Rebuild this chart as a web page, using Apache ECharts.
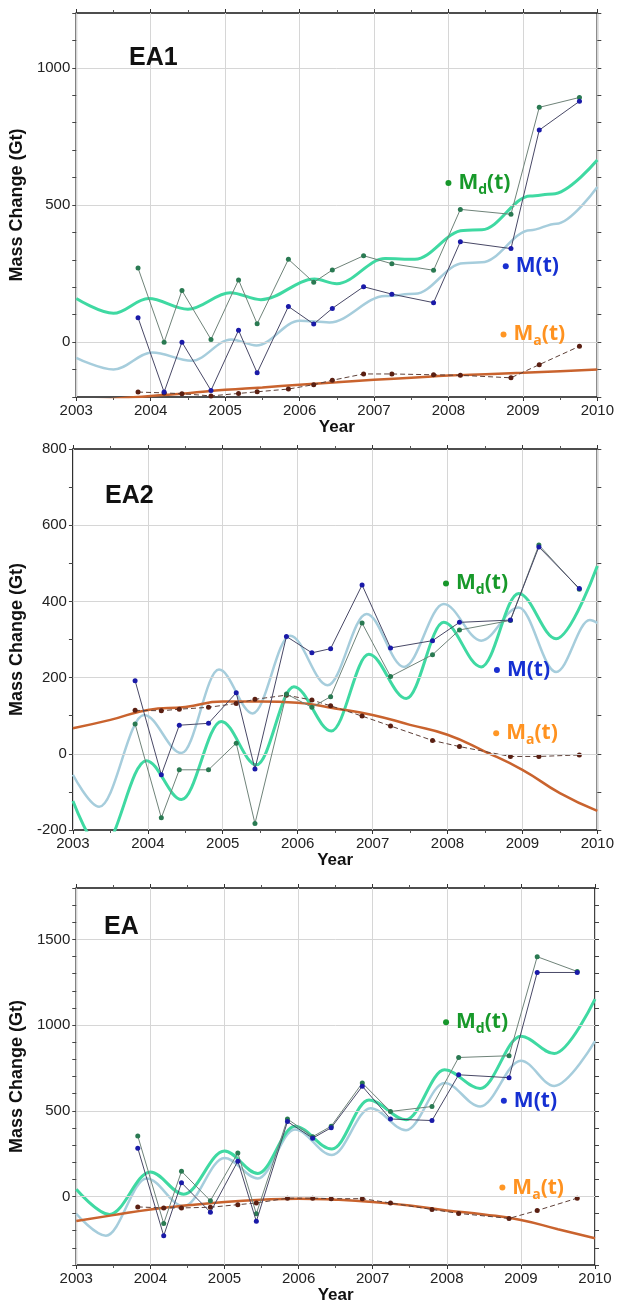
<!DOCTYPE html>
<html>
<head>
<meta charset="utf-8">
<script src="https://cdn.jsdelivr.net/npm/echarts@6/dist/echarts.min.js"></script>
<style>
  html, body { margin: 0; padding: 0; background: #fff; }
  #chart { width: 617px; height: 1305px; }
</style>
</head>
<body>
<div id="chart"></div>
<script>
// ICESat campaign epochs (decimal year)
var campaignYears = [2003.83, 2004.18, 2004.42, 2004.81, 2005.18, 2005.43, 2005.85, 2006.19,
                     2006.44, 2006.86, 2007.24, 2007.80, 2008.16, 2008.84, 2009.22, 2009.76];

// EA1
var ea1Md = [270, 0, 188, 10, 227, 67, 302, 218, 263, 315, 286, 262, 484, 466, 856, 892];
var ea1M  = [89, -182, 0, -176, 43, -112, 130, 66, 123, 202, 175, 144, 366, 341, 773, 878];
var ea1Ma = [-182, -185, -188, -196, -187, -181, -171, -155, -139, -116, -116, -119, -121, -130, -82, -15];
var ea1MdFit = [[2003.0,159],[2003.5,105],[2003.97,159],[2004.5,120],[2005.07,180],[2005.48,155],[2006.2,230],[2006.5,213],
                [2007.15,305],[2007.55,302],[2008.2,407],[2008.45,410],[2009.1,533],[2009.4,540],[2010.0,664]];
var ea1MFit  = [[2003.0,-57],[2003.5,-100],[2004.02,-38],[2004.55,-68],[2005.08,10],[2005.42,-12],[2006.0,78],[2006.4,72],
                [2007.15,168],[2007.55,176],[2008.2,288],[2008.45,291],[2009.1,408],[2009.45,432],[2010.0,566]];
var ea1MaFit = [[2003.0,-216],[2003.5,-207],[2004.0,-196],[2004.5,-186],[2005.0,-174],[2005.5,-165],[2006.0,-155],[2006.5,-146],
                [2007.0,-137],[2007.5,-130],[2008.0,-122],[2008.5,-117],[2009.0,-112],[2009.5,-106],[2010.0,-100]];
var ea1LabelPos = [[2008.0, 580], [2008.77, 277], [2008.74, 28]];

// EA2
var ea2Md = [78, -168, -42, -42, 28, -183, 157, 122, 150, 343, 203, 260, 325, 350, 548, 432];
var ea2M  = [192, -55, 75, 80, 160, -40, 308, 265, 276, 443, 278, 297, 345, 351, 543, 434];
var ea2Ma = [114, 113, 117, 122, 132, 143, 154, 141, 126, 99, 73, 35, 19, -7, -7, -3];
var ea2MdFit = [[2003.0,-124],[2003.38,-250],[2003.98,-18],[2004.45,-120],[2004.98,85],[2005.45,-29],[2005.95,176],[2006.45,60],
                [2006.95,261],[2007.45,145],[2007.95,345],[2008.45,228],[2008.95,421],[2009.45,302],[2010.0,493]];
var ea2MFit  = [[2003.0,-55],[2003.35,-139],[2003.95,102],[2004.45,2],[2004.95,221],[2005.4,106],[2005.9,310],[2006.4,180],
                [2006.92,367],[2007.42,228],[2007.95,393],[2008.45,297],[2008.95,384],[2009.45,215],[2009.9,351],[2010.0,343]];
var ea2MaFit = [[2003.0,67],[2003.5,89],[2004.0,115],[2004.5,123],[2005.0,137],[2005.5,137],[2006.0,134],[2006.5,119],
                [2007.0,102],[2007.5,76],[2008.0,50],[2008.5,6],[2009.0,-42],[2009.5,-103],[2010.0,-150]];
var ea2LabelPos = [[2007.98, 447], [2008.66, 220], [2008.65, 54]];

// EA
var ea3Md = [353, -158, 147, -25, 254, -101, 452, 349, 410, 662, 496, 525, 811, 821, 1399, 1313];
var ea3M  = [282, -229, 80, -92, 206, -145, 437, 340, 401, 643, 452, 443, 710, 693, 1307, 1307];
var ea3Ma = [-61, -67, -67, -63, -48, -38, -10, -10, -13, -13, -38, -76, -99, -128, -82, -10];
var ea3MdFit = [[2003.0,42],[2003.45,-105],[2004.0,143],[2004.45,13],[2005.0,265],[2005.45,134],[2005.95,410],[2006.45,277],
                [2006.95,563],[2007.45,448],[2007.97,739],[2008.45,630],[2009.0,935],[2009.45,834],[2010.0,1151]];
var ea3MFit  = [[2003.0,-101],[2003.4,-229],[2003.95,105],[2004.45,-57],[2005.0,225],[2005.45,105],[2005.95,391],[2006.45,242],
                [2006.97,515],[2007.45,387],[2007.97,662],[2008.45,525],[2009.0,792],[2009.45,645],[2010.0,906]];
var ea3MaFit = [[2003.0,-143],[2003.5,-109],[2004.0,-76],[2004.5,-52],[2005.0,-32],[2005.5,-19],[2006.0,-13],[2006.5,-19],
                [2007.0,-32],[2007.5,-53],[2008.0,-82],[2008.5,-105],[2009.0,-137],[2009.5,-191],[2010.0,-244]];
var ea3LabelPos = [[2007.99, 1017], [2008.77, 559], [2008.75, 52]];

// axes
var panelNames = ['EA1', 'EA2', 'EA'];
var yMin = [-200, -200, -400];
var yMax = [1200, 800, 1800];
var yLabelStep = [500, 200, 500];
var yGridLines = [[0, 500, 1000], [0, 200, 400, 600], [0, 500, 1000, 1500]];
var yearMin = 2003, yearMax = 2010;
var labelTexts = ['{a|M}{b|d}{a|(t)}', '{a|M(t)}', '{a|M}{b|a}{a|(t)}'];
var labelColors = ['#17992a', '#1530d2', '#ff9220'];
var dotColors = ['#17972b', '#1a2fd0', '#ff9624'];

var panels = [
  { md: ea1Md, m: ea1M, ma: ea1Ma, mdFit: ea1MdFit, mFit: ea1MFit, maFit: ea1MaFit, lab: ea1LabelPos },
  { md: ea2Md, m: ea2M, ma: ea2Ma, mdFit: ea2MdFit, mFit: ea2MFit, maFit: ea2MaFit, lab: ea2LabelPos },
  { md: ea3Md, m: ea3M, ma: ea3Ma, mdFit: ea3MdFit, mFit: ea3MFit, maFit: ea3MaFit, lab: ea3LabelPos }
];

var gridBoxes = [
  { left: 68, top: 13, width: 533, height: 384 },
  { left: 69, top: 449, width: 531, height: 381 },
  { left: 68, top: 888, width: 527, height: 382 }
];
var titleBoxes = [ { left: 129, top: 46 }, { left: 105, top: 484 }, { left: 104, top: 915 } ];

function pairs(times, vals) {
  return times.map(function (t, i) { return [t, vals[i]]; });
}

var chart = echarts.init(document.getElementById('chart'));
var font = 'Liberation Sans, Arial, sans-serif';
var option = {
  animation: false,
  backgroundColor: '#fff',
  title: [],
  grid: [],
  xAxis: [],
  yAxis: [],
  series: []
};

panels.forEach(function (p, i) {
  var g = gridBoxes[i];
  option.grid.push({
    left: g.left, top: g.top, width: g.width, height: g.height,
    show: true, borderColor: '#151515', borderWidth: 1.6, backgroundColor: 'transparent'
  });
  option.title.push({
    text: panelNames[i], left: titleBoxes[i].left, top: titleBoxes[i].top, padding: 0,
    textStyle: { fontFamily: font, fontSize: 25, fontWeight: 'bold', color: '#111' }
  });

  // bottom x axis (years)
  option.xAxis.push({
    type: 'value', gridIndex: i, position: 'bottom', min: yearMin, max: yearMax, interval: 1,
    name: 'Year', nameLocation: 'middle', nameGap: 22,
    nameTextStyle: { fontFamily: font, fontSize: 17, fontWeight: 'bold', color: '#111' },
    axisLine: { show: false, onZero: false },
    axisTick: { show: true, length: 4, lineStyle: { color: '#333' } },
    minorTick: { show: true, splitNumber: 2, length: 3, lineStyle: { color: '#555' } },
    axisLabel: { fontFamily: font, fontSize: 15, color: '#222', margin: 6, formatter: function (v) { return String(v); } },
    splitLine: { show: true, lineStyle: { color: '#d6d6d6', width: 1 } }
  });
  // top frame ticks
  option.xAxis.push({
    type: 'value', gridIndex: i, position: 'top', min: yearMin, max: yearMax, interval: 1,
    axisLine: { show: false, onZero: false }, axisLabel: { show: false }, splitLine: { show: false },
    axisTick: { show: true, length: 4, lineStyle: { color: '#333' } },
    minorTick: { show: true, splitNumber: 2, length: 3, lineStyle: { color: '#555' } }
  });
  // left y axis
  option.yAxis.push({
    type: 'value', gridIndex: i, position: 'left', min: yMin[i], max: yMax[i], interval: 100,
    name: 'Mass Change (Gt)', nameLocation: 'middle', nameGap: 35,
    nameTextStyle: { fontFamily: font, fontSize: 18, fontWeight: 'bold', color: '#111' },
    axisLine: { show: false, onZero: false },
    axisTick: { show: true, length: 4, lineStyle: { color: '#444' } },
    axisLabel: {
      fontFamily: font, fontSize: 15, color: '#222', margin: 6,
      formatter: function (v) {
        var keep = v % yLabelStep[i] === 0 && (i === 1 || v !== yMax[i]);
        return keep ? String(v) : '';
      }
    },
    splitLine: { show: false }
  });
  // right frame ticks
  option.yAxis.push({
    type: 'value', gridIndex: i, position: 'right', min: yMin[i], max: yMax[i], interval: 100,
    axisLine: { show: false, onZero: false }, axisLabel: { show: false }, splitLine: { show: false },
    axisTick: { show: true, length: 4, lineStyle: { color: '#444' } }
  });

  var xi = 2 * i, yi = 2 * i;

  // horizontal grid lines
  option.series.push({
    type: 'line', xAxisIndex: xi, yAxisIndex: yi, data: [], z: 1, silent: true,
    markLine: {
      silent: true, symbol: ['none', 'none'], label: { show: false },
      lineStyle: { color: '#d6d6d6', width: 1, type: 'solid' },
      data: yGridLines[i].map(function (v) { return { yAxis: v }; })
    }
  });

  // fitted curves
  option.series.push({
    name: 'M fit', type: 'line', xAxisIndex: xi, yAxisIndex: yi, data: p.mFit,
    smooth: 0.35, smoothMonotone: 'x', showSymbol: false, z: 2,
    lineStyle: { color: '#a6cddc', width: 2.5 }
  });
  option.series.push({
    name: 'Md fit', type: 'line', xAxisIndex: xi, yAxisIndex: yi, data: p.mdFit,
    smooth: 0.35, smoothMonotone: 'x', showSymbol: false, z: 3,
    lineStyle: { color: '#3fd9a2', width: 3 }
  });
  option.series.push({
    name: 'Ma fit', type: 'line', xAxisIndex: xi, yAxisIndex: yi, data: p.maFit,
    smooth: 0.5, showSymbol: false, z: 3,
    lineStyle: { color: '#c9632e', width: 2.5 }
  });

  // campaign estimates
  option.series.push({
    name: 'Ma', type: 'line', xAxisIndex: xi, yAxisIndex: yi, data: pairs(campaignYears, p.ma),
    symbol: 'circle', symbolSize: 5, z: 4,
    lineStyle: { color: '#5e4038', width: 1, type: [5, 3] },
    itemStyle: { color: '#5a1f12' }
  });
  option.series.push({
    name: 'Md', type: 'line', xAxisIndex: xi, yAxisIndex: yi, data: pairs(campaignYears, p.md),
    symbol: 'circle', symbolSize: 5, z: 5,
    lineStyle: { color: '#6f8379', width: 1 },
    itemStyle: { color: '#2a7a52' }
  });
  option.series.push({
    name: 'M', type: 'line', xAxisIndex: xi, yAxisIndex: yi, data: pairs(campaignYears, p.m),
    symbol: 'circle', symbolSize: 5, z: 6,
    lineStyle: { color: '#484866', width: 1 },
    itemStyle: { color: '#1a1aa8' }
  });

  // in-plot legend labels
  option.series.push({
    type: 'scatter', xAxisIndex: xi, yAxisIndex: yi, symbolSize: 6, z: 7, silent: true,
    data: p.lab.map(function (pt, k) {
      return {
        value: pt,
        itemStyle: { color: dotColors[k], opacity: 1 },
        label: {
          show: true, position: 'right', distance: 7,
          formatter: labelTexts[k],
          rich: {
            a: { fontFamily: 'Open Sans, sans-serif', fontWeight: 'bold', fontSize: 21, color: labelColors[k], lineHeight: 28 },
            b: { fontFamily: 'Open Sans, sans-serif', fontWeight: 'bold', fontSize: 14, color: labelColors[k], lineHeight: 14, verticalAlign: 'bottom' }
          }
        }
      };
    })
  });
});

chart.setOption(option);
</script>
</body>
</html>
